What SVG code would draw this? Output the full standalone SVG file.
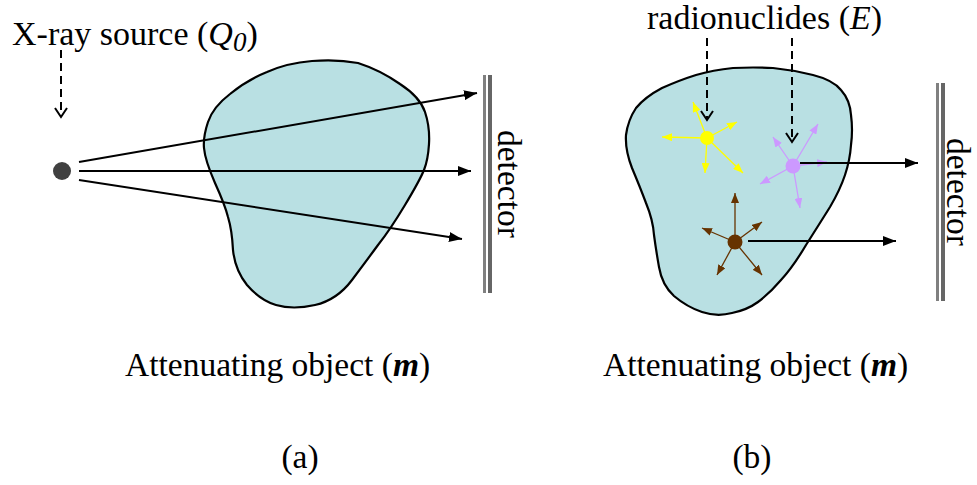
<svg xmlns="http://www.w3.org/2000/svg" width="977" height="485" viewBox="0 0 977 485">
<style>
text{font-family:"Liberation Serif","Times New Roman",serif;font-size:33.5px;fill:#000}
.top{font-size:34px}
.blob{fill:#b9e0e3;stroke:#000;stroke-width:2.2;stroke-linejoin:round}
.ray{stroke:#000;stroke-width:2;fill:none;marker-end:url(#ah)}
.dash{stroke:#000;stroke-width:2;fill:none;stroke-dasharray:8,5;marker-end:url(#vh)}
.y{stroke:#ffff00;stroke-width:1.3;marker-end:url(#ay)}
.p{stroke:#cc99ff;stroke-width:1.3;marker-end:url(#ap)}
.b{stroke:#663300;stroke-width:1.3;marker-end:url(#ab)}
</style>
<defs>
<marker id="ah" markerUnits="userSpaceOnUse" markerWidth="13" markerHeight="10" refX="13" refY="5" orient="auto"><path d="M0,0 L13,5 L0,10 z" fill="#000"/></marker>
<marker id="vh" markerUnits="userSpaceOnUse" markerWidth="12" markerHeight="14" refX="10" refY="7" orient="auto"><path d="M1,1 L10,7 L1,13" fill="none" stroke="#000" stroke-width="2"/></marker>
<marker id="ay" markerUnits="userSpaceOnUse" markerWidth="10" markerHeight="8" refX="10" refY="4" orient="auto"><path d="M0,0 L10,4 L0,8 z" fill="#ffff00"/></marker>
<marker id="ap" markerUnits="userSpaceOnUse" markerWidth="10" markerHeight="8" refX="10" refY="4" orient="auto"><path d="M0,0 L10,4 L0,8 z" fill="#cc99ff"/></marker>
<marker id="ab" markerUnits="userSpaceOnUse" markerWidth="10" markerHeight="8" refX="10" refY="4" orient="auto"><path d="M0,0 L10,4 L0,8 z" fill="#663300"/></marker>
</defs>

<g id="object-a">
<path class="blob" d="M358,63 Q380,70 400,84 Q420,97 425,112 Q430,127 429,144 Q428,160 424,170 Q420,180 405,205 Q390,230 378,245 Q367,260 352,280 Q337,300 315,305 Q293,310 276,305 Q260,300 247,285 Q235,270 233,250 Q232,230 228,217 Q225,205 215,183 Q205,160 204,148 Q203,137 208,122 Q213,107 230,94 Q247,80 267,72 Q287,63 312,61 Q337,59 358,63 z"/>
</g>
<g id="source-a">
<circle cx="62" cy="171" r="9" fill="#404040"/>
<text class="top" x="12" y="45">X-ray source (<tspan font-style="italic">Q</tspan><tspan font-style="italic" font-size="27" dy="6">0</tspan><tspan dy="-6">)</tspan></text>
</g>
<g id="detector-a">
<rect x="483" y="75" width="3" height="218" fill="#808080"/>
<rect x="488" y="75" width="4" height="218" fill="#666"/>
<text transform="translate(498,130) rotate(90)">detector</text>
</g>
<text x="125" y="376">Attenuating object (<tspan font-weight="bold" font-style="italic">m</tspan>)</text>
<text x="300" y="468" text-anchor="middle">(a)</text>

<g id="object-b">
<path class="blob" d="M773,68 Q793,70 813,75 Q833,80 841,90 Q850,100 851,115 Q853,130 851,145 Q850,160 845,175 Q840,190 830,207 Q820,223 806,245 Q793,267 781,280 Q770,293 758,302 Q747,310 732,313 Q717,317 702,312 Q687,307 674,296 Q662,285 659,267 Q656,250 654,235 Q653,220 646,203 Q640,187 632,168 Q625,150 626,135 Q628,120 636,108 Q645,97 662,88 Q680,80 696,75 Q713,70 733,68 Q753,67 773,68 z"/>
</g>
<g id="detector-b">
<rect x="936" y="83" width="3" height="218" fill="#808080"/>
<rect x="941" y="83" width="4" height="218" fill="#666"/>
<text transform="translate(947,138) rotate(90)">detector</text>
</g>
<text x="603" y="376">Attenuating object (<tspan font-weight="bold" font-style="italic">m</tspan>)</text>
<text x="752" y="468" text-anchor="middle">(b)</text>
<text class="top" x="647" y="29">radionuclides (<tspan font-style="italic">E</tspan>)</text>

<g id="connectors">
<line class="ray" x1="79" y1="162" x2="477" y2="93"/>
<line class="ray" x1="79" y1="171" x2="471" y2="171"/>
<line class="ray" x1="79" y1="180" x2="462" y2="239"/>
<line class="dash" x1="61" y1="50" x2="61" y2="117"/>
<line class="dash" x1="707" y1="38" x2="707" y2="120"/>
<line class="dash" x1="792" y1="38" x2="792" y2="142"/>
<g id="yellow">
<line class="y" x1="707" y1="138" x2="693" y2="102"/>
<line class="y" x1="707" y1="138" x2="737" y2="122"/>
<line class="y" x1="707" y1="138" x2="662" y2="137"/>
<line class="y" x1="707" y1="138" x2="705" y2="173"/>
<line class="y" x1="707" y1="138" x2="743" y2="173"/>
</g>
<g id="purple">
<line class="p" x1="793" y1="166" x2="773" y2="137"/>
<line class="p" x1="793" y1="166" x2="818" y2="124"/>
<line class="p" x1="793" y1="166" x2="760" y2="184"/>
<line class="p" x1="793" y1="166" x2="800" y2="208"/>
<line class="p" x1="793" y1="166" x2="827" y2="162"/>
</g>
<g id="brown">
<line class="b" x1="735" y1="242" x2="735" y2="193"/>
<line class="b" x1="735" y1="242" x2="702" y2="228"/>
<line class="b" x1="735" y1="242" x2="762" y2="222"/>
<line class="b" x1="735" y1="242" x2="717" y2="275"/>
<line class="b" x1="735" y1="242" x2="762" y2="275"/>
</g>
<line class="ray" x1="800" y1="163" x2="918" y2="163"/>
<line class="ray" x1="748" y1="241" x2="896" y2="241"/>
</g>
<g id="emitters">
<circle cx="707" cy="138" r="7" fill="#ffff00"/>
<circle cx="793" cy="166" r="7.5" fill="#cc99ff"/>
<circle cx="735" cy="242" r="7.5" fill="#663300"/>
</g>
</svg>
